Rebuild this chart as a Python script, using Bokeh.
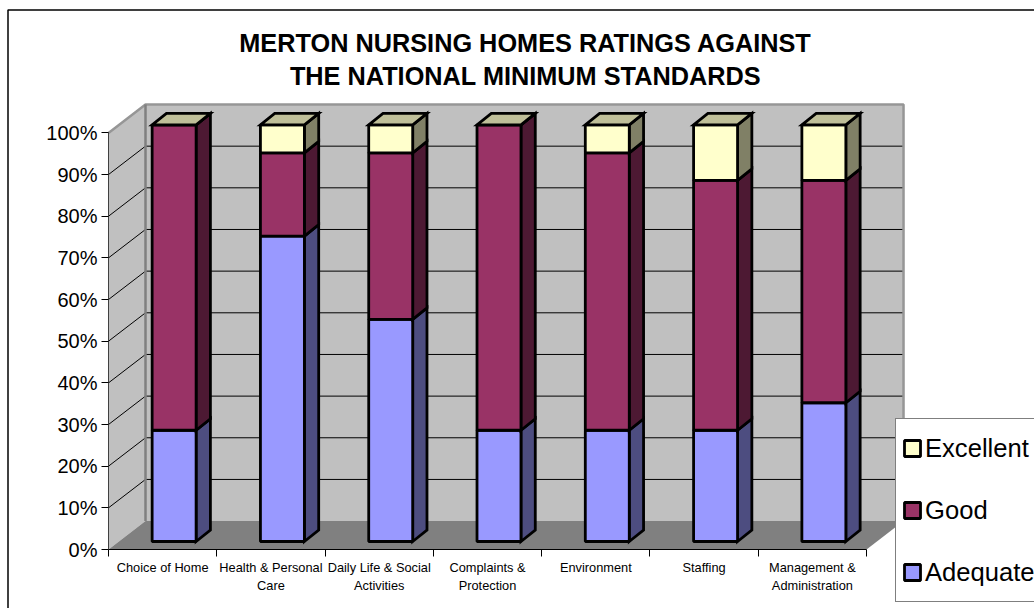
from bokeh.plotting import figure
from bokeh.models import (Range1d, LinearAxis, FixedTicker, PrintfTickFormatter, Label,
                          Legend, LegendItem, BoxAnnotation)
from bokeh.embed import file_html
from bokeh.resources import INLINE

categories = ["Choice of Home", "Health & Personal\nCare", "Daily Life & Social\nActivities",
              "Complaints &\nProtection", "Environment", "Staffing", "Management &\nAdministration"]
adequate = [26.7, 73.3, 53.3, 26.7, 26.7, 26.7, 33.3]
good = [73.3, 20.0, 40.0, 73.3, 66.6, 60.0, 53.4]
excellent = [0.0, 6.7, 6.7, 0.0, 6.7, 13.3, 13.3]
series_names = ["Adequate", "Good", "Excellent"]
series = [adequate, good, excellent]
front_colors = ["#9999FF", "#993366", "#FFFFCC"]
side_colors = ["#4D4D80", "#4D1933", "#808066"]
top_color = "#BFBF99"
y_ticks = [0, 10, 20, 30, 40, 50, 60, 70, 80, 90, 100]
title_lines = ["MERTON NURSING HOMES RATINGS AGAINST", "THE NATIONAL MINIMUM STANDARDS"]

W, H = 1034, 608
ORIGIN_X, ORIGIN_Y = 108, 549   # where category 0 / 0% fall on the page
CAT_PX = 108.29
PCT_PX = 4.166
FONT = "Liberation Sans"

p = figure(width=W, height=H, output_backend="svg", toolbar_location=None,
           x_range=Range1d(-ORIGIN_X / CAT_PX, (W - ORIGIN_X) / CAT_PX),
           y_range=Range1d(-(H - ORIGIN_Y) / PCT_PX, ORIGIN_Y / PCT_PX),
           min_border=0, x_axis_type=None, y_axis_type=None,
           background_fill_color="white", outline_line_color=None)
p.grid.visible = False

n = len(categories)
wdx, wdy = 37 / CAT_PX, 28.4 / PCT_PX          # wall depth
bdx, bdy = 14.3 / CAT_PX, 11.5 / PCT_PX        # bar depth
lift = 8.0 / PCT_PX                            # bars stand in from the front of the floor
b_l, b_r = 0.403, 0.809                        # bar position within its category
LW = 2.8

# walls and floor
p.patch([0, wdx, wdx, 0], [0, wdy, 100 + wdy, 100], fill_color="#C0C0C0", line_color=None)
p.patch([wdx, n + wdx, n + wdx, wdx], [wdy, wdy, 100 + wdy, 100 + wdy], fill_color="#C0C0C0", line_color=None)
p.patch([0, n, n + wdx, wdx], [0, 0, wdy, wdy], fill_color="#808080", line_color=None)

# gridlines
for t in y_ticks[1:]:
    p.line([0, wdx, n + wdx], [t, t + wdy, t + wdy], line_color="#000000", line_width=1)

# wall edges
p.line([0, wdx, n + wdx, n + wdx], [100, 100 + wdy, 100 + wdy, wdy], line_color="#969696", line_width=2.5)
p.line([wdx, wdx], [wdy, 100 + wdy], line_color="#808080", line_width=2.5)

# bars
legend_refs = {}
for i in range(n):
    base = lift
    for s, vals in enumerate(series):
        top = base + vals[i]
        l, r = i + b_l, i + b_r
        p.patch([r, r + bdx, r + bdx, r], [base, base + bdy, top + bdy, top],
                fill_color=side_colors[s], line_color="black", line_width=LW, line_join="miter")
        g = p.quad(left=[l], right=[r], bottom=[base], top=[top],
                   fill_color=front_colors[s], line_color="black", line_width=LW)
        legend_refs.setdefault(series_names[s], g)
        base = top
    p.patch([l, r, r + bdx, l + bdx], [base, base, base + bdy, base + bdy],
            fill_color=top_color, line_color="black", line_width=LW, line_join="miter")

# axes
yaxis = LinearAxis(ticker=FixedTicker(ticks=y_ticks), formatter=PrintfTickFormatter(format="%d%%"),
                   bounds=(0, 100), fixed_location=0, major_tick_out=7, major_tick_in=0, minor_tick_line_color=None,
                   major_label_text_font=FONT, major_label_text_font_size="20px", major_label_standoff=4,
                   major_label_text_color="black", axis_line_color="#404040", major_tick_line_color="black")
p.add_layout(yaxis, "left")

centres = [i + 0.5 for i in range(n)]
xaxis = LinearAxis(ticker=FixedTicker(ticks=centres, minor_ticks=list(range(n + 1))),
                   major_label_overrides=dict(zip(centres, categories)), bounds=(0, n), fixed_location=0,
                   major_tick_line_color=None, minor_tick_out=7, minor_tick_in=0, minor_tick_line_color="black",
                   major_label_text_font=FONT, major_label_text_font_size="12.8px", major_label_standoff=3,
                   major_label_text_color="black", axis_line_color="black")
p.add_layout(xaxis, "below")

# title
for text, y_px in zip(title_lines, (42, 75)):
    p.add_layout(Label(x=525, y=H - y_px, x_units="screen", y_units="screen", text=text,
                       text_align="center", text_baseline="middle", text_font=FONT,
                       text_font_size="25.3px", text_font_style="bold", text_color="black"))

# legend
items = [LegendItem(label=name, renderers=[legend_refs[name]]) for name in reversed(series_names)]
legend = Legend(items=items, location=(895, H - 602), orientation="vertical",
                label_text_font=FONT, label_text_font_size="25.6px", label_text_color="black",
                glyph_width=20, glyph_height=20, label_height=46, spacing=16, padding=6, margin=0,
                label_standoff=3, border_line_color="black", border_line_width=1,
                background_fill_color="white", background_fill_alpha=1.0, click_policy="none")
p.add_layout(legend, "center")

# chart-area border
p.add_layout(BoxAnnotation(left=7.5, right=W + 20, top=9.5, bottom=H + 20,
                           left_units="canvas", right_units="canvas", top_units="canvas", bottom_units="canvas",
                           fill_alpha=0, line_color="black", line_alpha=1.0, line_width=1.5, level="overlay"))

open("out.html", "w").write(file_html(p, INLINE))
